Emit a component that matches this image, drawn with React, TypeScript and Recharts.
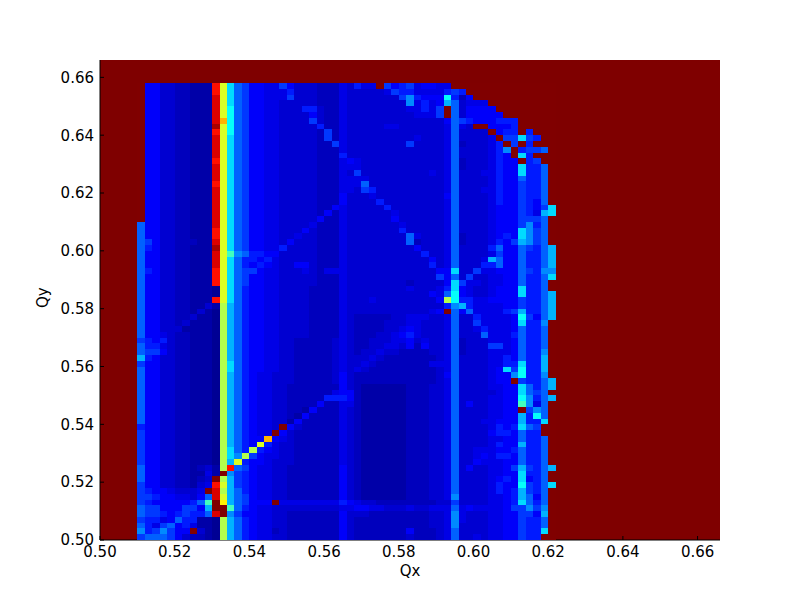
import { CartesianGrid, Scatter, ScatterChart, XAxis, YAxis } from "recharts"

const qxTicks = [0.5, 0.52, 0.54, 0.56, 0.58, 0.6, 0.62, 0.64, 0.66]
const qyTicks = [0.5, 0.52, 0.54, 0.56, 0.58, 0.6, 0.62, 0.64, 0.66]
const qMin = 0.5
const qMax = 0.666
const qStep = 0.002
const firstCol = 5

// one letter per cell, looked up in levelValues
const levelCodes = "0123456789abcdefghijklm"
const levelValues = [
  0.02, 0.04, 0.06, 0.08, 0.1, 0.12, 0.15, 0.18, 0.22, 0.26, 0.3, 0.34, 0.38, 0.44, 0.5, 0.55, 0.59, 0.64, 0.7, 0.86,
  0.91, 1, 0.96,
]

// rows run from Qy = 0.656 (first) downwards, columns from Qx = 0.51
const rowsTop = [
  "l553322111 jgb87 55447533322243 644l756745544 llllllllllllll",
  "l553322111 jgb87 55444633322243 3333476644446 76llllllllllll",
  "l553322111 kgb87 55444733322243 333333796555c 625lllllllllll",
  "l553322111 kgb87 55443333322243 333333394645a 83444lllllllll",
  "l553322111 kgc87 55443336632243 333333344647l 835555llllllll",
  "l553322111 kgc87 55443333532243 333333334447l 8355555lllllll",
  "l553322111 kic87 55443333732243 3333333333335 876555666lllll",
  "l553322111 mgc87 55443333362243 3333443333334 843ll5556lllll",
  "l553322111 jgc87 55443333327243 3333333333334 83333l566l6lll",
  "l553322111 kgb87 55443333327243 3333333343334 833334l77b76ll",
  "l553322111 kgb87 55443333322743 3333333733334 8233346l7l6lll",
  "l553322111 kgb87 55443333322243 3333333333334 83333469l6778l",
  "l553322111 kgb87 55443333322263 3333333333334 83333465lb6lll",
  "l553322111 jgb87 55443333322245 4333333333334 823334655l67ll",
  "l553322111 kgb87 55443333322244 4333333333334 823334655b668l",
  "l553322111 kgb87 55443333322243 7333333333434 833344655b668l",
  "l553322111 kgb87 55443333322244 4433333333334 8333346558668l",
  "l553322111 jgb87 55443333322244 4833333333334 8333346557668l",
  "l553322111 kgb87 55443333322244 3763333333334 8333446557668l",
  "l553322111 kgb87 55443333322253 3343333333335 8333346557668l",
  "l553322111 kgb87 55443333322253 3336333333334 8333346557658l",
  "l553322111 kgb87 55443333322543 3333633333334 8333345557657b",
  "l553322111 kgb87 55443333325243 3333343333334 833334555764ab",
  "l553322111 kgb87 55443333352243 3333353333334 8333345557778l",
]

const rowsUpperMiddle = [
  "8553322111 kgb87 55443333422243 3333334333334 8333345557968l",
  "8553322111 jgb87 55443335322243 3333336333334 833334555b978l",
  "8553322111 jgb87 55443343322243 3333333843334 823334565b978l",
  "8753322211 kgb87 55443533322243 3333333823334 823334657a978l",
  "8653322111 mgb87 55446333322243 3333333353334 8333368558768a",
  "8553322111 kgd98 66553333322243 3333333336334 8333347558668a",
  "8553322111 kgb86 65643333322243 3333333333534 83334a8558668a",
  "8553322111 kgb86 56543355322243 3333333333634 8333668558668a",
  "8653322111 jgb87 75443334324443 3333333333355 b3374455587699",
  "8553322111 jgb87 55443333322243 3333333333375 8373344558668b",
  "8553322111 jgb87 55443333322243 3333333233335 b744344558668l",
  "8553322111 0gb86 55443333222243 3333333433346 b54334555b668l",
  "8553322111 0gb86 55443333222243 3333333333548 c54334555b668a",
  "8553322111 jgb86 55443333222243 334333333335f c664455557668a",
  "8553322113 1fa86 55443333222243 3333333333336 9a64444557668a",
  "8553322131 0fa86 55443333222243 333333333345l 858444467a668a",
  "8553322311 0fa86 55443333222243 2222233444334 833644445c758a",
  "8553323111 0fa86 55443333222243 2222333443334 833744445b669l",
  "8553331111 0fa86 55443333222243 2222334543334 8334644458668l",
  "8554322111 0fa86 55443333222243 2223345643334 8333844468668l",
  "7656322111 0fa86 55443322222343 2233344534334 8233344458668l",
  "8664322111 0fa86 55443322222343 2233443525334 8233377458668l",
  "8775322111 0fa86 55443322222343 2334332222334 8233344458669l",
  "a653322111 0fa86 55443322222343 3343222222234 833334465866al",
  "7553322111 0fb86 55443322222343 3432222222444 833334466b66al",
  "8553322111 0fb86 55443322222343 4322222222234 8333345b7c66al",
]

const rowsLowerMiddle = [
  "8553322111 0fa86 54433322222353 2222222222235 833334559c669l",
  "8553322111 0fa86 54433322222353 2222222222234 83333455l7668a",
  "8553322111 0fa86 54433222222253 2111111222334 833334455b868a",
  "8553322111 0fa86 54433222222455 2111111222334 833333455b878l",
  "8553322111 0fa86 54433222226665 2111111222334 833334455c968a",
  "8553322111 0fa86 54433222252244 2111111222334 835334455d948l",
  "8553322111 0fa86 54433221522243 2111111222334 833334455l798l",
  "8553322111 0fa86 54433215222243 2111111222334 833334455a6c8l",
  "8553322111 0fa86 54433152222243 2111111222334 833344555a66bl",
  "6553322111 0fa86 5443l532222243 2111111222334 833334656b87ll",
  "7553322111 0fa86 544l5322222243 2111111222334 833335665866ll",
  "7553322111 0fa86 55i54322222243 2111111222334 8333344558668l",
  "7553322111 0fa86 5g643322222243 2111111222334 833334655a668l",
  "7553322111 0fb86 f6543322222243 2111111222334 8334445568668l",
  "7553322111 0fb9f 75443322222243 2111111222334 8334546658668l",
  "7553322111 0fag6 55433322222243 2111111222334 8335444558668l",
]

const rowsBottom = [
  "8553322123 1fj87 54433222222253 2111111222334 835334457a768a",
  "8553322114 1l976 54433222222253 2111111222334 833334455b668l",
  "8553322123 lfa76 54433222222253 2111111222334 833334565b568l",
  "7553322134 jga76 54433222222253 2111111222334 833334655c768b",
  "765543334l kfa86 54433222222253 2111111222334 833334656a768l",
  "7765544358 kga87 54433222222253 2111111222334 933334456a858l",
  "765555568d lha87 555l4444444465 4332222222233 733334456b868l",
  "877555775a lld86 54433333333344 5544333433444 8454444577979l",
  "8776567668 kl975 54433222222253 3322222222334 943334455775al",
  "7664586611 0fa86 54433222222253 2222222222334 9433344557668l",
  "8647856411 0fa86 54433222222253 2222222222334 9333344557668l",
  "9679755l31 0fa86 54423222222253 2222222522234 833334455766bl",
  "7888753221 0fa86 54433222222253 2222222322234 833434455766ll",
]

const rows = [...rowsTop, ...rowsUpperMiddle, ...rowsLowerMiddle, ...rowsBottom]

const cells = rows.flatMap((row, r) =>
  row
    .replace(/ /g, "")
    .split("")
    .map((code, c) => ({
      qx: qMin + (firstCol + c + 0.5) * qStep,
      qy: qMin + (rows.length - 1 - r + 0.5) * qStep,
      level: levelValues[levelCodes.indexOf(code)],
    })),
)

const plotWidth = 620
const plotHeight = 480
const cellW = (qStep / (qMax - qMin)) * plotWidth
const cellH = (qStep / (qMax - qMin)) * plotHeight

const channel = (t: number) => Math.round(255 * Math.max(0, Math.min(1, t)))

// jet colormap
function jet(v: number) {
  const r = 1.5 - Math.abs(4 * v - 3)
  const g = 1.5 - Math.abs(4 * v - 2)
  const b = 1.5 - Math.abs(4 * v - 1)
  return `rgb(${channel(r)},${channel(g)},${channel(b)})`
}

function HeatCell(props: any) {
  const { cx, cy, payload } = props
  return (
    <rect
      x={cx - cellW / 2}
      y={cy - cellH / 2}
      width={cellW + 0.4}
      height={cellH + 0.4}
      fill={jet(payload.level)}
      shapeRendering="crispEdges"
    />
  )
}

const tickStyle = { fontFamily: "DejaVu Sans", fontSize: 15, fill: "#000" }
const labelStyle = { fontFamily: "DejaVu Sans", fontSize: 15, fill: "#000" }
const fmt = (v: number) => v.toFixed(2)

export default function App() {
  return (
    <div style={{ position: "absolute", left: 0, top: 0, width: 800, height: 600, background: "#fff" }}>
      <ScatterChart width={800} height={600} margin={{ top: 60, right: 80, bottom: 10, left: 40 }}>
        <CartesianGrid horizontal={false} vertical={false} fill="#7f0000" />
        <Scatter data={cells} dataKey="qy" shape={HeatCell} isAnimationActive={false} />
        <XAxis
          type="number"
          dataKey="qx"
          domain={[qMin, qMax]}
          ticks={qxTicks}
          tickFormatter={fmt}
          tick={tickStyle}
          tickSize={-4}
          tickMargin={10}
          height={50}
          stroke="#000"
          interval={0}
          label={{ value: "Qx", position: "insideBottom", offset: 14, style: labelStyle }}
        />
        <YAxis
          type="number"
          dataKey="qy"
          domain={[qMin, qMax]}
          ticks={qyTicks}
          tickFormatter={fmt}
          tick={tickStyle}
          tickSize={-4}
          tickMargin={10}
          width={60}
          stroke="#000"
          interval={0}
          label={{ value: "Qy", angle: -90, position: "insideLeft", offset: 0, dx: 3, dy: 8, style: labelStyle }}
        />
        <XAxis
          xAxisId="top"
          orientation="top"
          type="number"
          domain={[qMin, qMax]}
          ticks={qxTicks}
          tick={false}
          tickSize={-4}
          height={0}
          stroke="#000"
          interval={0}
        />
        <YAxis
          yAxisId="right"
          orientation="right"
          type="number"
          domain={[qMin, qMax]}
          ticks={qyTicks}
          tick={false}
          tickSize={-4}
          width={0}
          stroke="#000"
          interval={0}
        />
      </ScatterChart>
    </div>
  )
}
